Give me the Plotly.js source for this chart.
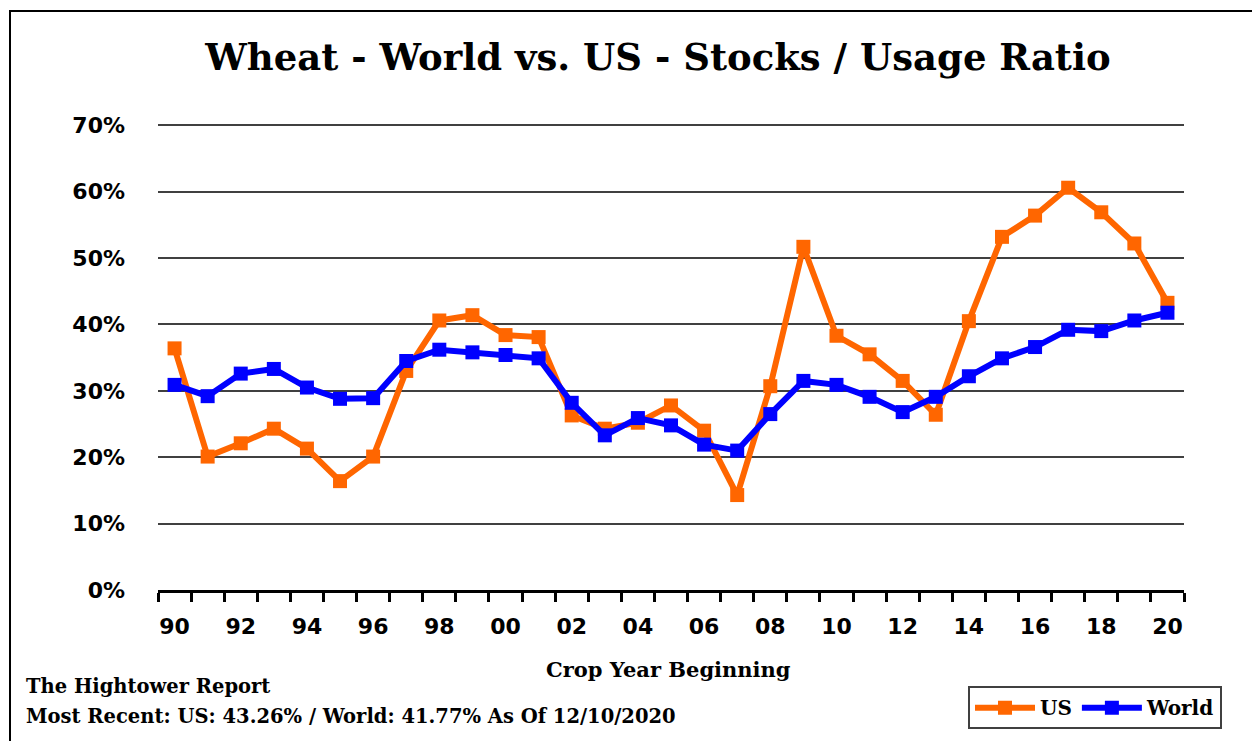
<!DOCTYPE html>
<html>
<head>
<meta charset="utf-8">
<script src="https://cdn.plot.ly/plotly-3.0.1.min.js"></script>
<style>
html,body{margin:0;padding:0;background:#fff;}
#chart{width:1252px;height:741px;}
</style>
</head>
<body>
<div id="chart"></div>
<script>
const years = [1990,1991,1992,1993,1994,1995,1996,1997,1998,1999,2000,2001,2002,2003,2004,2005,2006,2007,2008,2009,2010,2011,2012,2013,2014,2015,2016,2017,2018,2019,2020];
const usRatio = [0.364,0.201,0.221,0.243,0.213,0.164,0.201,0.330,0.406,0.414,0.384,0.381,0.263,0.243,0.252,0.278,0.240,0.143,0.307,0.517,0.383,0.355,0.315,0.264,0.405,0.532,0.564,0.606,0.569,0.522,0.4326];
const worldRatio = [0.309,0.292,0.326,0.333,0.305,0.288,0.289,0.345,0.362,0.358,0.354,0.349,0.282,0.233,0.259,0.248,0.219,0.210,0.265,0.315,0.309,0.291,0.268,0.291,0.322,0.349,0.366,0.392,0.390,0.406,0.4177];
const tickYears = [1990,1992,1994,1996,1998,2000,2002,2004,2006,2008,2010,2012,2014,2016,2018,2020];
const tickLabels = ['90','92','94','96','98','00','02','04','06','08','10','12','14','16','18','20'];
const yTicks = [0,0.1,0.2,0.3,0.4,0.5,0.6,0.7];
const yTickLabels = ['0%','10%','20%','30%','40%','50%','60%','70%'];

const serif = 'DejaVu Serif, serif';
const sans = 'DejaVu Sans, Verdana, sans-serif';

const traces = [
  {x: years, y: usRatio, name: 'US', type: 'scatter', mode: 'lines+markers',
   line: {color: '#FF6600', width: 6}, marker: {symbol: 'square', size: 14, color: '#FF6600'}},
  {x: years, y: worldRatio, name: 'World', type: 'scatter', mode: 'lines+markers',
   line: {color: '#0000FF', width: 6}, marker: {symbol: 'square', size: 14, color: '#0000FF'}}
];

// plot area: left 158, right 1184, top 124, bottom 594 (0% line)
const L = 158, W = 1026, B = 594, H = 470;
const px = v => (v - L) / W;
const py = v => (B - v) / H;

const layout = {
  width: 1252, height: 741,
  margin: {l: L, r: 1252 - L - W, t: B - H, b: 741 - B},
  paper_bgcolor: '#fff', plot_bgcolor: '#fff',
  showlegend: true,
  title: {text: 'Wheat - World vs. US - Stocks / Usage Ratio',
    font: {family: serif, size: 37, weight: 'bold', color: '#000'},
    xref: 'paper', x: px(658), xanchor: 'center', yref: 'container', y: 1 - 57 / 741, yanchor: 'middle'},
  xaxis: {
    range: [1989.5, 2020.5], fixedrange: true,
    tickmode: 'array', tickvals: tickYears, ticktext: tickLabels,
    ticks: '', ticklabelstandoff: 15,
    tickfont: {family: sans, size: 22, weight: 'bold', color: '#000'},
    showgrid: false, zeroline: false,
    showline: true, linecolor: '#000', linewidth: 3,
    minor: {tickmode: 'linear', tick0: 1989.5, dtick: 1, ticks: 'outside', ticklen: 9, tickwidth: 3, tickcolor: '#000', showgrid: false}
  },
  yaxis: {
    range: [0, 0.702], fixedrange: true,
    tickmode: 'array', tickvals: yTicks, ticktext: yTickLabels,
    ticks: '', ticklabelstandoff: 32,
    tickfont: {family: sans, size: 22, weight: 'bold', color: '#000'},
    showgrid: true, gridcolor: '#404040', gridwidth: 2,
    zeroline: false, showline: false
  },
  legend: {
    orientation: 'h', x: px(968), y: py(691), xanchor: 'left', yanchor: 'top',
    xref: 'paper', yref: 'paper',
    bordercolor: '#404040', borderwidth: 2, bgcolor: '#fff',
    font: {family: serif, size: 20, weight: 'bold', color: '#000'},
    itemwidth: 60, tracegroupgap: 0
  },
  annotations: [
    {text: 'Crop Year Beginning', xref: 'paper', yref: 'paper', x: px(668), y: py(674),
     xanchor: 'center', yanchor: 'middle', showarrow: false,
     font: {family: serif, size: 21, weight: 'bold', color: '#000'}},
    {text: 'The Hightower Report', xref: 'paper', yref: 'paper', x: px(24), y: py(691),
     xanchor: 'left', yanchor: 'middle', showarrow: false,
     font: {family: serif, size: 19.5, weight: 'bold', color: '#000'}},
    {text: 'Most Recent: US: 43.26% / World: 41.77% As Of 12/10/2020', xref: 'paper', yref: 'paper', x: px(24), y: py(722),
     xanchor: 'left', yanchor: 'middle', showarrow: false,
     font: {family: serif, size: 19.5, weight: 'bold', color: '#000'}}
  ],
  shapes: [
    {type: 'rect', xref: 'paper', yref: 'paper', layer: 'below',
     x0: px(10), x1: px(1320), y0: py(800), y1: py(10),
     line: {color: '#000', width: 2}, fillcolor: 'rgba(0,0,0,0)'}
  ]
};

Plotly.newPlot('chart', traces, layout, {displayModeBar: false, staticPlot: true});
</script>
</body>
</html>
